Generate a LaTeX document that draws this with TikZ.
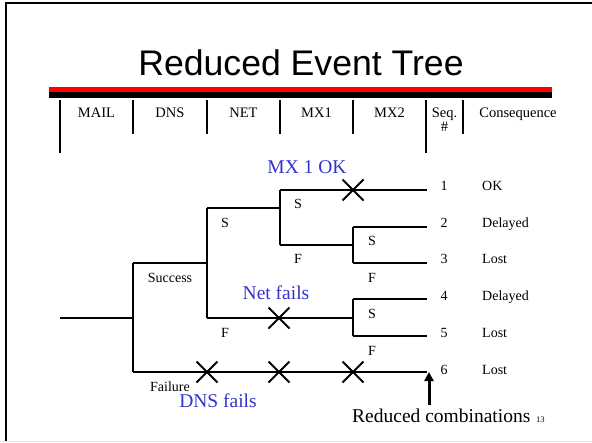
\documentclass[tikz,border=0pt]{standalone}
\usepackage{fontspec}
\setmainfont{Liberation Serif}
\newfontfamily\titlefont{Liberation Sans}
\usetikzlibrary{shapes.misc,arrows.meta}
\definecolor{slideblue}{RGB}{51,51,204}
\tikzset{
  branch/.style={line width=2pt},
  colsep/.style={line width=2pt},
  cut/.style={cross out,draw,line width=2pt,minimum size=19pt,inner sep=0pt},
  lbl/.style={font=\fontsize{14}{16}\selectfont,inner sep=0pt,anchor=base},
  hdr/.style={font=\fontsize{14.5}{16}\selectfont,inner sep=0pt,anchor=base},
  note/.style={font=\fontsize{19.5}{22}\selectfont,text=slideblue,inner sep=0pt,anchor=base}
}
\begin{document}
\begin{tikzpicture}[x=1pt,y=-1pt]
\useasboundingbox (0,0) rectangle (592,442);
\draw[line width=2pt] (6,442) -- (6,3) -- (592,3);
\draw[gray!20] (0,441) -- (592,441);
\node[font=\titlefont\fontsize{35.6}{40}\selectfont,inner sep=0pt,anchor=base] (title) at (301,75) {Reduced Event Tree};
\fill[red] (49,87.3) rectangle (552,92.3);
\fill (49,92.3) rectangle (552,97.7);
\foreach \x in {133,207,280,353,463} \draw[colsep] (\x,100) -- (\x,134);
\foreach \x in {60,426} \draw[colsep] (\x,100) -- (\x,153);
\node[hdr] (hmail) at (96.5,117) {MAIL};
\node[hdr] (hdns) at (170,117) {DNS};
\node[hdr] (hnet) at (243.5,117) {NET};
\node[hdr] (hmxa) at (316.5,117) {MX1};
\node[hdr] (hmxb) at (389.5,117) {MX2};
\node[hdr] (hseq) at (444.5,117) {Seq.};
\node[hdr] (hnum) at (444.5,131) {\#};
\node[hdr] (hcons) at (518,117) {Consequence};
% tree
\coordinate (in) at (60,318);
\coordinate (dns) at (133,318);
\coordinate (dnsS) at (133,263);
\coordinate (dnsF) at (133,372);
\coordinate (net) at (207,263);
\coordinate (netS) at (207,208);
\coordinate (netF) at (207,318);
\coordinate (mx) at (280,208);
\coordinate (mxS) at (280,190);
\coordinate (mxF) at (280,245);
\coordinate (mxa) at (353,245);
\coordinate (mxaS) at (353,227);
\coordinate (mxaF) at (353,263);
\coordinate (mxb) at (353,318);
\coordinate (mxbS) at (353,299);
\coordinate (mxbF) at (353,336);
\coordinate (e1) at (427,190);
\coordinate (e2) at (427,227);
\coordinate (e3) at (427,263);
\coordinate (e4) at (427,299);
\coordinate (e5) at (427,336);
\coordinate (e6) at (427,372);
\draw[branch] (in) -- (dns);
\draw[branch] (dnsS) -- (dnsF);
\draw[branch] (dnsS) -- (net);
\draw[branch] (netS) -- (netF);
\draw[branch] (netS) -- (mx);
\draw[branch] (mxS) -- (mxF);
\draw[branch] (mxS) -- (e1);
\draw[branch] (mxF) -- (mxa);
\draw[branch] (mxaS) -- (mxaF);
\draw[branch] (mxaS) -- (e2);
\draw[branch] (mxaF) -- (e3);
\draw[branch] (netF) -- (mxb);
\draw[branch] (mxbS) -- (mxbF);
\draw[branch] (mxbS) -- (e4);
\draw[branch] (mxbF) -- (e5);
\draw[branch] (dnsF) -- (e6);
\node[cut] (xa) at (353,190) {};
\node[cut] (xb) at (279,318) {};
\node[cut] (xc) at (207,372) {};
\node[cut] (xd) at (279,372) {};
\node[cut] (xe) at (353,372) {};
\node[lbl] (success) at (170,282) {Success};
\node[lbl] (failure) at (170,391) {Failure};
\node[lbl] (sa) at (225,227) {S};
\node[lbl] (fa) at (225,337) {F};
\node[lbl] (sb) at (298,208) {S};
\node[lbl] (fb) at (298,263) {F};
\node[lbl] (sc) at (372,245) {S};
\node[lbl] (fc) at (372,282) {F};
\node[lbl] (sd) at (372,318) {S};
\node[lbl] (fd) at (372,355) {F};
\node[note] (mxok) at (307,173) {MX 1 OK};
\node[note] (netfails) at (276,299) {Net fails};
\node[note] (dnsfails) at (218,407) {DNS fails};
\foreach \n/\y/\c in {1/190/OK,2/227/Delayed,3/263/Lost,4/300/Delayed,5/337/Lost,6/374/Lost}{
  \node[lbl] (seq\n) at (444,\y) {\n};
  \node[lbl,anchor=base west] (cons\n) at (482,\y) {\c};
}
\coordinate (arrowfoot) at (429,405);
\coordinate (arrowtip) at (429,372);
\draw[line width=3pt,-{Triangle[width=9pt,length=9pt]}] (arrowfoot) -- (arrowtip);
\node[note,text=black,anchor=base west] (reduced) at (352,422) {Reduced combinations};
\node[font=\fontsize{8.5}{10}\selectfont,inner sep=0pt,anchor=base west] (pagenum) at (536,422) {13};
\end{tikzpicture}
\end{document}
